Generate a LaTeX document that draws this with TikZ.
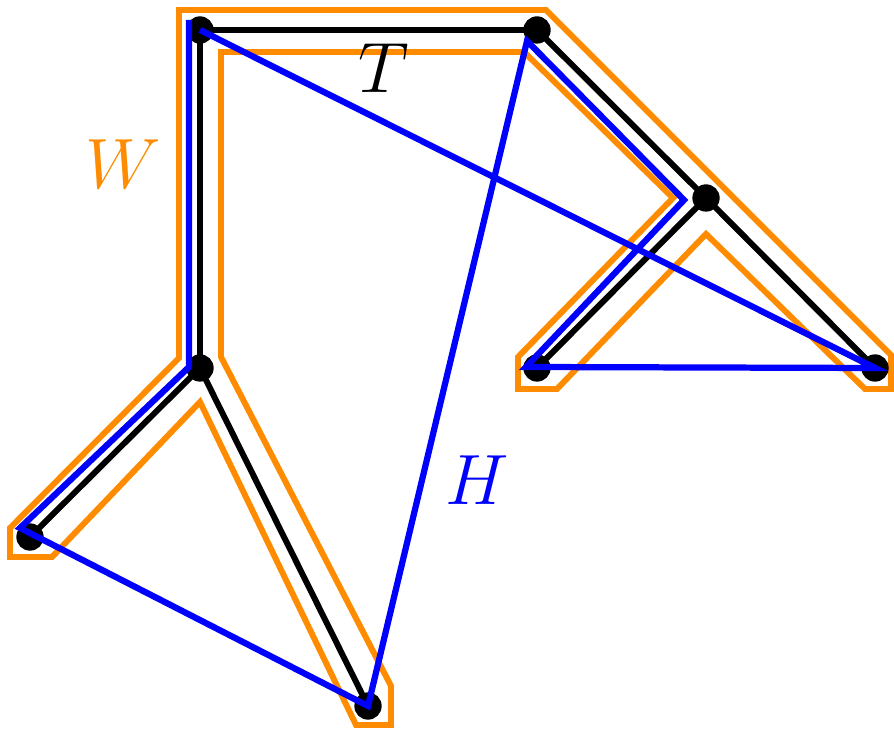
\documentclass[tikz,border=0pt]{standalone}
\definecolor{worange}{RGB}{255,140,0}
\definecolor{hblue}{RGB}{0,0,255}
\begin{document}
\begin{tikzpicture}[x=0.059172mm,y=-0.059172mm,
  treeedge/.style={draw=black,line width=1pt},
  walkline/.style={draw=worange,line width=1pt},
  cycleline/.style={draw=hblue,line width=1.05pt},
  dot/.style={circle,fill=black,inner sep=0pt,minimum size=4.6pt},
  lbl/.style={font=\large,inner sep=0pt}]
\useasboundingbox (0,0) rectangle (894,731);
% tree vertices
\coordinate (A) at (200,30);
\coordinate (B) at (537,30);
\coordinate (C) at (706,198);
\coordinate (D) at (875,368);
\coordinate (E) at (537,368);
\coordinate (F) at (200,368);
\coordinate (G) at (30,537);
\coordinate (H) at (368,706);
% walk W (orange)
\draw[walkline] (179,10) -- (546,10) -- (891,355) -- (891,389) -- (865,389)
  -- (706,234) -- (557,389) -- (518,389) -- (518,357) -- (673,198)
  -- (524,52) -- (221,52) -- (221,357) -- (391,686) -- (391,725)
  -- (356,725) -- (200,402) -- (52,557) -- (10,557) -- (10,528)
  -- (179,358) -- cycle;
% tree T (black)
\draw[treeedge] (A) -- (B) -- (C) -- (D);
\draw[treeedge] (C) -- (E);
\draw[treeedge] (A) -- (F) -- (G);
\draw[treeedge] (F) -- (H);
\foreach \v in {A,B,C,D,E,F,G,H}{\node[dot] (d\v) at (\v) {};}
% cycle H (blue)
\coordinate (q1) at (189,20);
\coordinate (q2) at (189,367);
\coordinate (q3) at (20,528);
\coordinate (q5) at (527,41);
\coordinate (q6) at (684,200);
\coordinate (q7) at (526,367);
\draw[cycleline] (q1) -- (q2) -- (q3) -- (H) -- (q5) -- (q6) -- (q7) -- (D) -- (A);
% labels
\node[lbl,text=black] (lT) at (384,68) {$T$};
\node[lbl,text=worange] (lW) at (123,164) {$W$};
\node[lbl,text=hblue] (lH) at (477,480) {$H$};
\end{tikzpicture}
\end{document}
